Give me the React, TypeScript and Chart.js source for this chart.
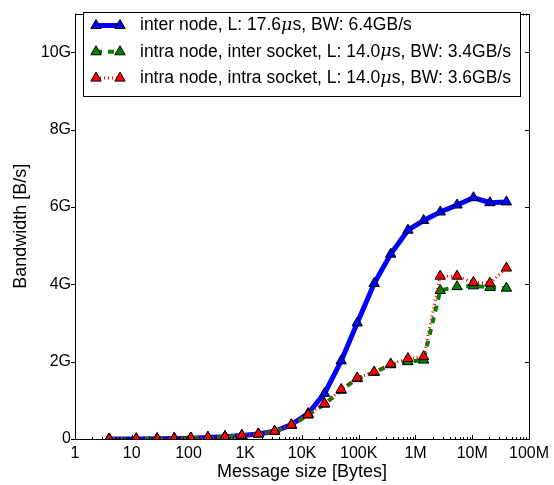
import React, { useEffect, useRef } from 'react';
import { Chart, registerables } from 'chart.js';

Chart.register(...registerables);

// Message sizes [Bytes]
const messageSizes = [4, 12, 28, 56, 110, 220, 440, 870, 1700, 3300, 6500, 12800, 25000, 49000, 94000, 187000, 366000, 736000, 1390000, 2730000, 5400000, 10500000, 20500000, 40000000];
// Bandwidth [GB/s]
const interNode = [0.001, 0.003, 0.006, 0.012, 0.022, 0.04, 0.06, 0.09, 0.13, 0.2, 0.37, 0.66, 1.18, 2.02, 3.0, 4.02, 4.78, 5.4, 5.65, 5.87, 6.05, 6.24, 6.11, 6.13];
const intraNodeInterSocket = [0.001, 0.003, 0.006, 0.012, 0.022, 0.04, 0.06, 0.09, 0.13, 0.2, 0.35, 0.62, 0.9, 1.26, 1.56, 1.72, 1.92, 2.0, 2.04, 3.84, 3.94, 3.96, 3.92, 3.9];
const intraNodeIntraSocket = [0.001, 0.003, 0.006, 0.012, 0.022, 0.04, 0.06, 0.09, 0.13, 0.2, 0.36, 0.63, 0.92, 1.28, 1.58, 1.73, 1.94, 2.08, 2.13, 4.21, 4.21, 4.05, 4.03, 4.42];

const seriesLabels = [
  'inter node, L: 17.6μs, BW: 6.4GB/s',
  'intra node, inter socket, L: 14.0μs, BW: 3.4GB/s',
  'intra node, intra socket, L: 14.0μs, BW: 3.6GB/s',
];

const xTickValues = [1, 10, 100, 1e3, 1e4, 1e5, 1e6, 1e7, 1e8];
const xTickLabels = ['1', '10', '100', '1K', '10K', '100K', '1M', '10M', '100M'];
const yTickValues = [0, 2, 4, 6, 8, 10];
const yTickLabels = ['0', '2G', '4G', '6G', '8G', '10G'];

const FONT = "'Liberation Sans', Arial, Helvetica, sans-serif";
const MARKER_R = 6;
const LEGEND_FONT = 17.5;

function triangle(ctx: CanvasRenderingContext2D, x: number, y: number, r: number, fill: string) {
  const h = (Math.PI * 2) / 3;
  ctx.beginPath();
  ctx.moveTo(x, y - r);
  ctx.lineTo(x + Math.sin(h) * r, y - Math.cos(h) * r);
  ctx.lineTo(x + Math.sin(2 * h) * r, y - Math.cos(2 * h) * r);
  ctx.closePath();
  ctx.fillStyle = fill;
  ctx.fill();
  ctx.lineWidth = 1;
  ctx.strokeStyle = '#000';
  ctx.stroke();
}

const framePlugin = {
  id: 'frameTicks',
  afterDraw(chart: any) {
    const { ctx, chartArea: a, scales } = chart;
    ctx.save();
    ctx.strokeStyle = '#000';
    ctx.lineWidth = 1;
    ctx.setLineDash([]);
    ctx.beginPath();
    const xs = scales.x;
    for (let d = 0; d < 8; d++) {
      for (let k = 1; k <= 9; k++) {
        const v = k * Math.pow(10, d);
        const px = Math.round(xs.getPixelForValue(v)) + 0.5;
        const len = k === 1 ? 4 : 2;
        ctx.moveTo(px, a.bottom);
        ctx.lineTo(px, a.bottom - len);
        ctx.moveTo(px, a.top);
        ctx.lineTo(px, a.top + len);
      }
    }
    const ys = scales.y;
    yTickValues.forEach((v) => {
      const py = Math.round(ys.getPixelForValue(v)) + 0.5;
      ctx.moveTo(a.left - 4, py);
      ctx.lineTo(a.left, py);
      ctx.moveTo(a.right - 4, py);
      ctx.lineTo(a.right, py);
    });
    ctx.stroke();
    ctx.strokeRect(Math.round(a.left) + 0.5, Math.round(a.top) + 0.5, Math.round(a.right - a.left), Math.round(a.bottom - a.top));
    ctx.restore();
  },
};

const legendPlugin = {
  id: 'boxLegend',
  afterDraw(chart: any) {
    const ctx: CanvasRenderingContext2D = chart.ctx;
    ctx.save();
    const bx = 83.5, by = 12.5, bw = 437, bh = 84;
    ctx.fillStyle = '#fff';
    ctx.fillRect(bx, by, bw, bh);
    ctx.strokeStyle = '#000';
    ctx.lineWidth = 1;
    ctx.strokeRect(bx, by, bw, bh);
    chart.data.datasets.forEach((ds: any, i: number) => {
      const y = 25.5 + i * 26.3;
      ctx.beginPath();
      ctx.setLineDash(ds.borderDash || []);
      ctx.lineWidth = ds.borderWidth;
      ctx.strokeStyle = ds.borderColor;
      ctx.moveTo(96, y);
      ctx.lineTo(120, y);
      ctx.stroke();
      ctx.setLineDash([]);
      triangle(ctx, 96, y, MARKER_R, ds.pointBackgroundColor);
      triangle(ctx, 120, y, MARKER_R, ds.pointBackgroundColor);
      const parts = String(ds.label).split('μ');
      let x = 140;
      ctx.fillStyle = '#000';
      ctx.textBaseline = 'middle';
      ctx.textAlign = 'left';
      parts.forEach((p, j) => {
        ctx.font = `${LEGEND_FONT}px ${FONT}`;
        ctx.fillText(p, x, y);
        x += ctx.measureText(p).width;
        if (j < parts.length - 1) {
          ctx.font = `italic ${LEGEND_FONT}px 'DejaVu Serif', serif`;
          ctx.fillText('μ', x, y);
          x += ctx.measureText('μ').width;
        }
      });
    });
    ctx.restore();
  },
};

export default function App() {
  const ref = useRef<HTMLCanvasElement | null>(null);
  useEffect(() => {
    if (!ref.current) return;
    Chart.defaults.font.family = FONT;
    Chart.defaults.font.size = 16;
    Chart.defaults.color = '#000';
    const mk = (arr: number[]) => messageSizes.map((x, i) => ({ x, y: arr[i] }));
    const base = {
      pointBorderColor: '#000',
      pointBorderWidth: 1,
      pointStyle: 'triangle',
      pointRadius: MARKER_R,
      tension: 0,
      clip: 0,
    };
    const chart = new Chart(ref.current, {
      type: 'line',
      data: {
        datasets: [
          {
            ...base,
            label: seriesLabels[0],
            data: mk(interNode),
            borderColor: '#0000ff',
            backgroundColor: '#0000ff',
            pointBackgroundColor: '#0000ff',
            borderWidth: 5,
            borderDash: [],
            order: 3,
          },
          {
            ...base,
            label: seriesLabels[1],
            data: mk(intraNodeInterSocket),
            borderColor: '#008000',
            backgroundColor: '#008000',
            pointBackgroundColor: '#008000',
            borderWidth: 4,
            borderDash: [6, 6],
            order: 2,
          },
          {
            ...base,
            label: seriesLabels[2],
            data: mk(intraNodeIntraSocket),
            borderColor: '#ff0000',
            backgroundColor: '#ff0000',
            pointBackgroundColor: '#ff0000',
            borderWidth: 3,
            borderDash: [1, 3],
            order: 1,
          },
        ],
      } as any,
      options: {
        responsive: false,
        animation: false,
        devicePixelRatio: 1,
        layout: { padding: { left: 0, top: 4, right: 22, bottom: 0 } },
        plugins: { legend: { display: false }, tooltip: { enabled: false } },
        scales: {
          x: {
            type: 'logarithmic',
            min: 1,
            max: 1e8,
            grid: { display: false, drawTicks: false },
            border: { display: false },
            afterBuildTicks: (s: any) => {
              s.ticks = xTickValues.map((value) => ({ value }));
            },
            afterFit: (s: any) => {
              s.height = 46;
            },
            ticks: {
              autoSkip: false,
              maxRotation: 0,
              padding: 5,
              font: { size: 16 },
              callback: (_v: any, i: number) => xTickLabels[i],
            },
            title: { display: true, text: 'Message size [Bytes]', font: { size: 18 }, padding: { top: 0, bottom: 2 } },
          },
          y: {
            type: 'linear',
            min: 0,
            max: 11,
            grid: { display: false, drawTicks: false },
            border: { display: false },
            afterBuildTicks: (s: any) => {
              s.ticks = yTickValues.map((value) => ({ value }));
            },
            afterFit: (s: any) => {
              s.width = 75;
            },
            ticks: {
              padding: 4,
              font: { size: 16 },
              callback: (_v: any, i: number) => yTickLabels[i],
            },
            title: { display: true, text: 'Bandwidth [B/s]', font: { size: 18 }, padding: { top: 10, bottom: 0 } },
          },
        },
      } as any,
      plugins: [framePlugin, legendPlugin],
    });
    return () => chart.destroy();
  }, []);
  return (
    <div style={{ position: 'fixed', left: 0, top: 0, width: 554, height: 485, background: '#fff' }}>
      <canvas ref={ref} width={554} height={485} style={{ display: 'block' }} />
    </div>
  );
}
